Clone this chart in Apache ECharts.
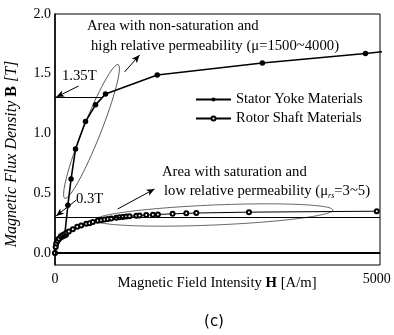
<!DOCTYPE html>
<html>
<head>
<meta charset="utf-8">
<script src="https://cdn.jsdelivr.net/npm/echarts@6/dist/echarts.min.js"></script>
<style>
html, body { margin: 0; padding: 0; background: #fff; }
#chart { width: 394px; height: 335px; }
</style>
</head>
<body>
<div id="chart"></div>
<script>
// stator yoke B-H points (filled dots)
var statorH = [0, 10, 20, 35, 50, 70, 90, 110, 130, 150, 174, 200, 250, 319, 474, 630, 785, 1589, 3222, 4824, 5200];
var statorB = [0, 0.05, 0.08, 0.10, 0.11, 0.12, 0.13, 0.135, 0.14, 0.145, 0.15, 0.40, 0.62, 0.87, 1.10, 1.24, 1.33, 1.49, 1.59, 1.67, 1.69];

// rotor shaft B-H points (open circles)
var rotorH = [0, 10, 20, 40, 60, 90, 120, 150, 180, 215, 277, 345, 407, 485, 536, 588, 665, 718, 770, 821, 874, 952, 1003, 1054, 1107, 1158, 1263, 1314, 1418, 1521, 1599, 1827, 2040, 2196, 3014, 5000];
var rotorB = [0, 0.05, 0.08, 0.10, 0.12, 0.14, 0.15, 0.16, 0.17, 0.18, 0.20, 0.22, 0.23, 0.245, 0.25, 0.26, 0.27, 0.275, 0.28, 0.285, 0.29, 0.295, 0.30, 0.302, 0.305, 0.308, 0.312, 0.315, 0.318, 0.32, 0.323, 0.328, 0.332, 0.335, 0.342, 0.35];

var seriesNames = ['Stator Yoke Materials', 'Rotor Shaft Materials'];
var yTicks = [0, 0.5, 1.0, 1.5, 2.0];
var xTicks = [0, 5000];

// reference levels drawn in the figure
var levelLow = 0.3;     // 0.3T line
var levelHigh = 1.30;   // "1.35T" line
var levelHighEnd = 740;

function pairs(xs, ys) {
  return xs.map(function (x, i) { return [x, ys[i]]; });
}

var serif = '"Liberation Serif", "Times New Roman", serif';
var fs = '14.7px ';
var chart = echarts.init(document.getElementById('chart'));

var arrow = function (a, b) {
  return [{ coord: a, symbol: 'none' }, { coord: b, symbol: 'arrow', symbolSize: [5, 8] }];
};

var option = {
  animation: false,
  grid: {
    left: 55, right: 14, top: 14, bottom: 70,
    show: true, borderColor: '#000', borderWidth: 1
  },
  legend: {
    orient: 'vertical',
    left: 190,
    top: 87,
    itemWidth: 35,
    itemHeight: 5,
    itemGap: 4,
    textStyle: { fontFamily: serif, fontSize: 14.5, color: '#000' },
    data: seriesNames
  },
  xAxis: {
    type: 'value',
    min: 0,
    max: 5050,
    interval: 50,
    axisLine: { show: true, lineStyle: { color: '#000', width: 1 } },
    axisTick: { show: false },
    splitLine: { show: false },
    axisLabel: {
      interval: 0,
      margin: 7,
      color: '#000',
      fontFamily: serif,
      fontSize: 14,
      showMaxLabel: false,
      formatter: function (v) { return xTicks.indexOf(v) >= 0 ? String(v) : ''; }
    }
  },
  yAxis: {
    type: 'value',
    min: -0.1,
    max: 2.0,
    interval: 0.1,
    axisLine: { show: true, lineStyle: { color: '#000', width: 1.5 } },
    axisTick: { show: false },
    splitLine: { show: false },
    axisLabel: {
      margin: 4,
      color: '#000',
      fontFamily: serif,
      fontSize: 14,
      formatter: function (v) {
        for (var i = 0; i < yTicks.length; i++) {
          if (Math.abs(v - yTicks[i]) < 1e-6) return yTicks[i].toFixed(1);
        }
        return '';
      }
    }
  },
  series: [
    {
      name: seriesNames[0],
      type: 'line',
      data: pairs(statorH, statorB),
      symbol: 'circle',
      symbolSize: 5.5,
      showAllSymbol: true,
      clip: true,
      lineStyle: { color: '#000', width: 1.6 },
      itemStyle: { color: '#000' },
      markLine: {
        silent: true,
        symbol: 'none',
        label: { show: false },
        lineStyle: { color: '#000', width: 1, type: 'solid' },
        data: [
          [{ coord: [0, 0], lineStyle: { width: 2 } }, { coord: [5050, 0] }],
          [{ coord: [0, levelLow] }, { coord: [5050, levelLow] }],
          [{ coord: [0, levelHigh] }, { coord: [levelHighEnd, levelHigh] }],
          arrow([365, 1.397], [20, 1.305]),
          arrow([1081, 1.515], [1314, 1.657]),
          arrow([334, 0.444], [16, 0.31]),
          arrow([972, 0.368], [1547, 0.536])
        ]
      }
    },
    {
      name: seriesNames[1],
      type: 'line',
      data: pairs(rotorH, rotorB),
      symbol: 'emptyCircle',
      symbolSize: 4,
      showAllSymbol: true,
      lineStyle: { color: '#000', width: 1 },
      itemStyle: { color: '#000', borderWidth: 0.8 }
    }
  ],
  graphic: [
    // annotation ellipses
    { type: 'ellipse', x: 91.5, y: 131.5, rotation: 1.192,
      shape: { cx: 0, cy: 0, rx: 72, ry: 9 },
      style: { fill: 'none', stroke: '#444', lineWidth: 0.8 } },
    { type: 'ellipse', x: 214, y: 215, rotation: 0.042,
      shape: { cx: 0, cy: 0, rx: 119, ry: 10 },
      style: { fill: 'none', stroke: '#444', lineWidth: 0.8 } },
    // annotation texts
    { type: 'text', left: 87, top: 19,
      style: { text: 'Area with non-saturation and', font: fs + serif, fill: '#000' } },
    { type: 'text', left: 91, top: 39,
      style: { text: 'high relative permeability (\u03bc=1500~4000)', font: fs + serif, fill: '#000' } },
    { type: 'text', left: 62, top: 69,
      style: { text: '1.35T', font: fs + serif, fill: '#000' } },
    { type: 'text', left: 76, top: 192,
      style: { text: '0.3T', font: fs + serif, fill: '#000' } },
    { type: 'text', left: 162, top: 165,
      style: { text: 'Area with saturation and', font: fs + serif, fill: '#000' } },
    { type: 'text', left: 164, top: 184,
      style: {
        text: '{n|low relative permeability (\u03bc}{s|rs}{n|=3~5)}',
        rich: {
          n: { font: fs + serif, fill: '#000' },
          s: { font: 'italic 8px ' + serif, fill: '#000', padding: [8, 0, 0, 0] }
        }
      } },
    // axis titles
    { type: 'text', x: 12, y: 154, rotation: Math.PI / 2,
      style: {
        text: '{i|Magnetic Flux Density }{b|B}{i| [T]}',
        align: 'center', verticalAlign: 'middle',
        rich: {
          i: { font: 'italic 16px ' + serif, fill: '#000' },
          b: { font: 'bold 16px ' + serif, fill: '#000' }
        }
      } },
    { type: 'text', x: 217, y: 283,
      style: {
        text: '{i|Magnetic Field Intensity }{b|H}{i| [A/m]}',
        align: 'center', verticalAlign: 'middle',
        rich: {
          i: { font: fs + serif, fill: '#000' },
          b: { font: 'bold ' + fs + serif, fill: '#000' }
        }
      } },
    { type: 'text', x: 214, y: 322,
      style: { text: '(c)', font: '15px "DejaVu Sans", sans-serif', fill: '#000', align: 'center', verticalAlign: 'middle' } }
  ]
};

chart.setOption(option);
</script>
</body>
</html>
